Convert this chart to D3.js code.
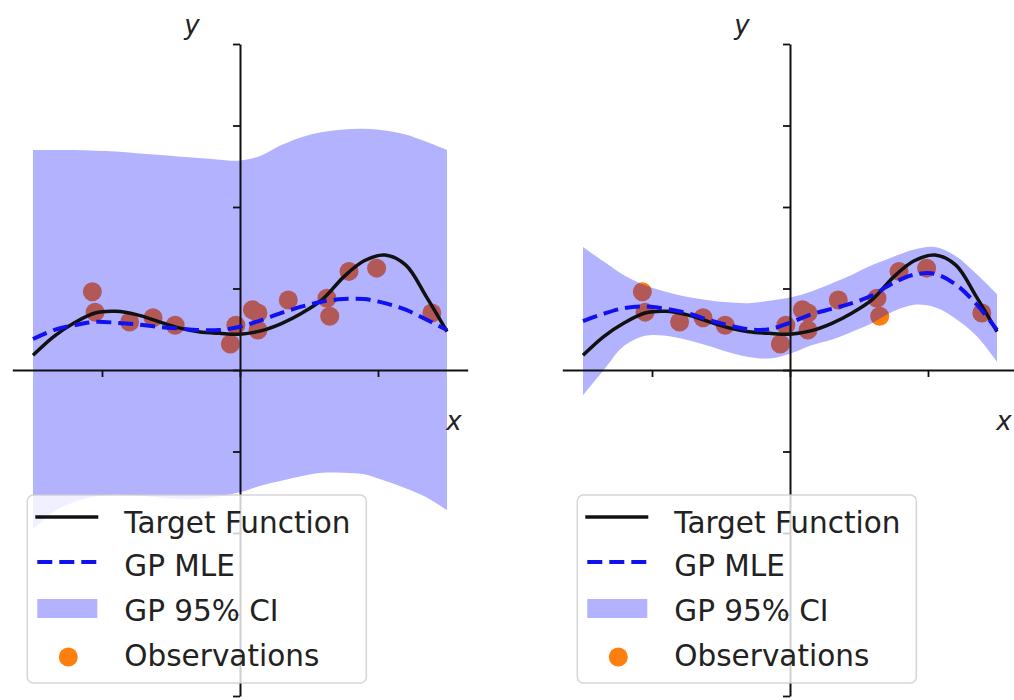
<!DOCTYPE html>
<html>
<head>
<meta charset="utf-8">
<script src="https://cdn.jsdelivr.net/npm/d3@7"></script>
<style>
  body { margin: 0; background: #fff; }
  svg { display: block; }
  text { font-family: "DejaVu Sans", sans-serif; }
</style>
</head>
<body>
<svg id="chart" width="1014" height="700"></svg>
<script>
var gridX = [-1.5, -1.35, -1.2, -1.05, -0.9, -0.75, -0.6, -0.45, -0.3, -0.15, 0,
             0.15, 0.3, 0.45, 0.6, 0.75, 0.9, 1.05, 1.2, 1.35, 1.5];

// target function (same in both panels)
var targetY = [0.18, 0.41, 0.58, 0.70, 0.72, 0.68, 0.60, 0.52, 0.47, 0.45, 0.44,
               0.48, 0.57, 0.70, 0.87, 1.14, 1.34, 1.41, 1.29, 0.90, 0.47];

// left panel: GP MLE and 95% CI
var leftMean  = [0.38, 0.49, 0.55, 0.59, 0.58, 0.56, 0.53, 0.51, 0.49, 0.49, 0.53,
                 0.61, 0.70, 0.78, 0.84, 0.87, 0.87, 0.82, 0.74, 0.62, 0.49];
var leftUpper = [2.70, 2.70, 2.70, 2.69, 2.68, 2.66, 2.64, 2.62, 2.60, 2.58, 2.57,
                 2.63, 2.76, 2.86, 2.92, 2.95, 2.96, 2.94, 2.89, 2.80, 2.70];
var leftLower = [-1.96, -1.74, -1.62, -1.55, -1.53, -1.54, -1.56, -1.58, -1.58, -1.55, -1.50,
                 -1.42, -1.36, -1.30, -1.26, -1.26, -1.28, -1.36, -1.45, -1.56, -1.72];

// right panel: GP MLE and 95% CI
var rightMean  = [0.60, 0.69, 0.76, 0.78, 0.75, 0.70, 0.62, 0.55, 0.50, 0.50, 0.58,
                  0.68, 0.75, 0.82, 0.92, 1.07, 1.17, 1.18, 1.05, 0.81, 0.49];
var rightUpper = [1.51, 1.33, 1.16, 1.04, 0.96, 0.90, 0.86, 0.83, 0.82, 0.85, 0.89,
                  0.96, 1.06, 1.17, 1.29, 1.39, 1.48, 1.51, 1.40, 1.18, 0.93];
var rightLower = [-0.31, 0.00, 0.30, 0.42, 0.42, 0.37, 0.30, 0.22, 0.16, 0.14, 0.20,
                  0.30, 0.37, 0.47, 0.58, 0.72, 0.80, 0.77, 0.63, 0.42, 0.10];

// observations
var obsX = [-1.07, -1.05, -0.80, -0.63, -0.47, -0.07, -0.03, 0.09, 0.13, 0.13,
            0.35, 0.63, 0.65, 0.79, 0.99, 1.39];
var obsY = [0.96, 0.71, 0.59, 0.64, 0.55, 0.32, 0.55, 0.74, 0.70, 0.49,
            0.86, 0.88, 0.66, 1.21, 1.25, 0.70];

var xTicks = [-1, 0, 1];
var yTicks = [-4, -3, -2, -1, 0, 1, 2, 3, 4];
var legendLabels = ["Target Function", "GP MLE", "GP 95% CI", "Observations"];

var svg = d3.select("#chart");

var panels = [
    { left: 12.3, mean: leftMean, upper: leftUpper, lower: leftLower },
    { left: 562.3, mean: rightMean, upper: rightUpper, lower: rightLower }
];

panels.forEach(function (p) {
    drawPanel(p);
});

function drawPanel(p) {
    var g = svg.append("g");

    var x = d3.scaleLinear().domain([-1.65, 1.65]).range([p.left, p.left + 455.4]);
    var y = d3.scaleLinear().domain([-4, 4]).range([696, 44]);

    //観測点
    g.append("g").selectAll("circle")
        .data(obsX)
        .enter()
        .append("circle")
        .attr("cx", function (d) { return x(d); })
        .attr("cy", function (d, i) { return y(obsY[i]); })
        .attr("r", 9.5)
        .attr("fill", "#ff7f0e");

    //信頼区間
    var band = d3.area()
        .curve(d3.curveCatmullRom)
        .x(function (d, i) { return x(gridX[i]); })
        .y0(function (d, i) { return y(p.lower[i]); })
        .y1(function (d) { return y(d); });

    g.append("path")
        .datum(p.upper)
        .attr("d", band)
        .attr("fill", "blue")
        .attr("fill-opacity", 0.3);

    //軸
    var xAxis = g.append("g")
        .attr("transform", "translate(0," + y(0) + ")")
        .call(d3.axisBottom(x).tickValues(xTicks).tickSize(7).tickSizeOuter(0).tickFormat(""));
    var yAxis = g.append("g")
        .attr("transform", "translate(" + x(0) + ",0)")
        .call(d3.axisLeft(y).tickValues(yTicks).tickSize(7).tickSizeOuter(0).tickFormat(""));
    [xAxis, yAxis].forEach(function (a) {
        a.select(".domain").attr("stroke", "#111").attr("stroke-width", 2);
        a.selectAll(".tick line").attr("stroke", "#111").attr("stroke-width", 1.8);
    });

    var line = d3.line()
        .curve(d3.curveCatmullRom)
        .x(function (d, i) { return x(gridX[i]); })
        .y(function (d) { return y(d); });

    g.append("path")
        .datum(targetY)
        .attr("d", line)
        .attr("fill", "none")
        .attr("stroke", "#111")
        .attr("stroke-width", 3.5);

    g.append("path")
        .datum(p.mean)
        .attr("d", line)
        .attr("fill", "none")
        .attr("stroke", "#1010f0")
        .attr("stroke-width", 4)
        .attr("stroke-dasharray", "15,7");

    //軸ラベル
    g.append("text")
        .attr("x", x(0) - 48)
        .attr("y", 34)
        .attr("text-anchor", "middle")
        .attr("font-size", 26)
        .attr("font-style", "italic")
        .attr("fill", "#222")
        .text("y");
    g.append("text")
        .attr("x", x(0) + 214)
        .attr("y", 430)
        .attr("text-anchor", "middle")
        .attr("font-size", 26)
        .attr("font-style", "italic")
        .attr("fill", "#222")
        .text("x");

    //凡例
    var lx = p.left + 15;
    var leg = g.append("g").attr("transform", "translate(" + lx + ",495)");
    leg.append("rect")
        .attr("width", 339).attr("height", 188)
        .attr("rx", 6)
        .attr("fill", "white").attr("fill-opacity", 0.8)
        .attr("stroke", "#ccc").attr("stroke-opacity", 0.8).attr("stroke-width", 1.5);

    var rowY = [22, 67, 113.5, 162];
    leg.append("line")
        .attr("x1", 8).attr("x2", 71).attr("y1", rowY[0]).attr("y2", rowY[0])
        .attr("stroke", "#111").attr("stroke-width", 3.5);
    leg.append("line")
        .attr("x1", 10).attr("x2", 71).attr("y1", rowY[1]).attr("y2", rowY[1])
        .attr("stroke", "#1010f0").attr("stroke-width", 4).attr("stroke-dasharray", "15,7");
    leg.append("rect")
        .attr("x", 10).attr("y", rowY[2] - 9.5).attr("width", 60).attr("height", 19)
        .attr("fill", "blue").attr("fill-opacity", 0.3);
    leg.append("circle")
        .attr("cx", 41).attr("cy", rowY[3]).attr("r", 9.5)
        .attr("fill", "#ff7f0e");

    var textY = [38, 81, 126, 171];
    leg.selectAll("text.lab")
        .data(legendLabels)
        .enter()
        .append("text")
        .attr("class", "lab")
        .attr("x", 97)
        .attr("y", function (d, i) { return textY[i]; })
        .attr("font-size", 29.5)
        .attr("fill", "#222")
        .text(function (d) { return d; });
}
</script>
</body>
</html>
